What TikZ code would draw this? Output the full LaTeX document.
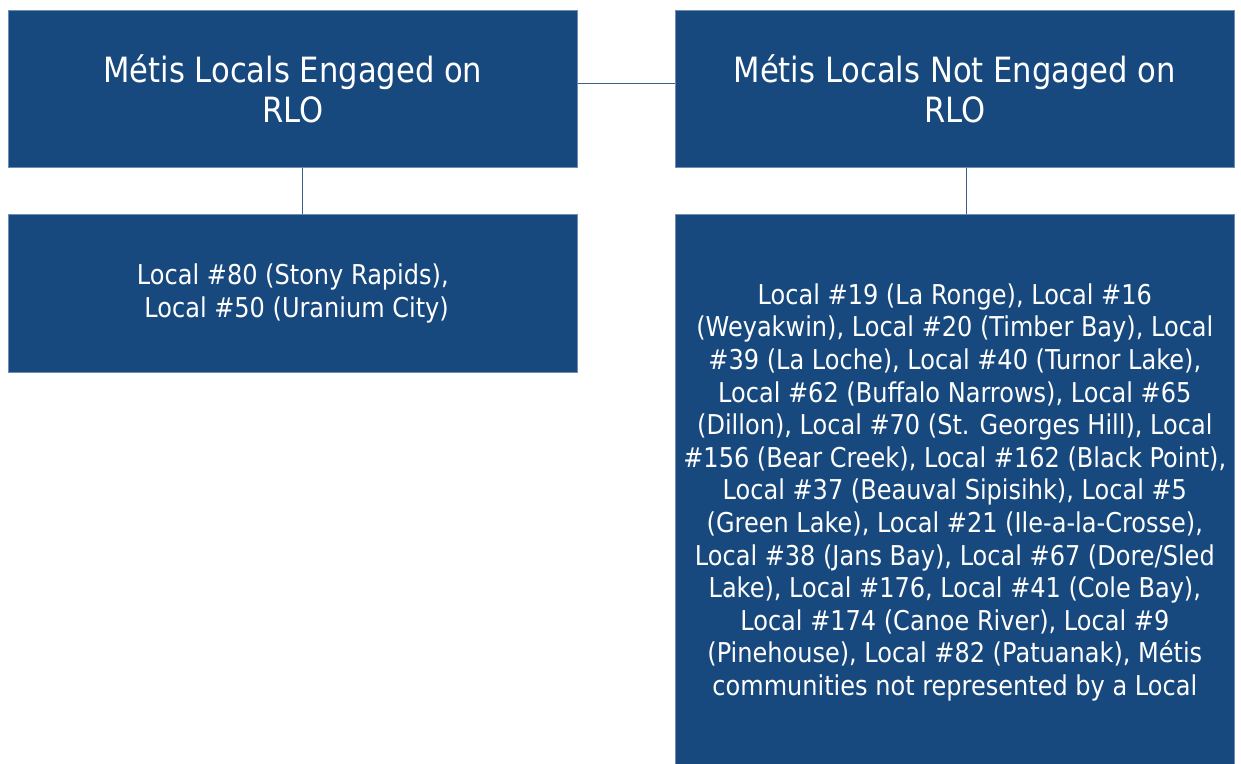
\documentclass[tikz,border=0pt]{standalone}
\usepackage{fontspec}
\setmainfont{DejaVu Sans}[FakeStretch=0.88]
\usetikzlibrary{calc}
\definecolor{boxblue}{RGB}{24,73,126}
\definecolor{edgeblue}{RGB}{110,140,180}
\definecolor{linkblue}{RGB}{60,95,140}
\tikzset{
  box/.style={fill=boxblue, draw=edgeblue, line width=0.6pt, text=white, align=center, inner sep=0pt, anchor=north west},
  head/.style={font=\fontsize{34.8}{40}\selectfont},
  body/.style={font=\fontsize{27.3}{32.6}\selectfont},
  link/.style={draw=linkblue, line width=1.3pt}
}
\begin{document}
\begin{tikzpicture}[x=1pt,y=-1pt]
\useasboundingbox (0,0) rectangle (1241,763);
\fill[white] (0,0) rectangle (1241,763);
\node[box, head, minimum width=569pt, minimum height=157pt] (tl) at (8,10) {Métis Locals Engaged on\\RLO};
\node[box, head, minimum width=559pt, minimum height=157pt] (tr) at (675,10) {Métis Locals Not Engaged on\\RLO};
\node[box, body, minimum width=569pt, minimum height=158pt] (bl) at (8,214) {Local \#80 (Stony Rapids),\\ \ Local \#50 (Uranium City)};
\node[box, body, minimum width=559pt, minimum height=556pt] (br) at (675,214) {Local \#19 (La Ronge), Local \#16\\(Weyakwin), Local \#20 (Timber Bay), Local\\\#39 (La Loche), Local \#40 (Turnor Lake),\\Local \#62 (Buffalo Narrows), Local \#65\\(Dillon), Local \#70 (St. Georges Hill), Local\\\#156 (Bear Creek), Local \#162 (Black Point),\\Local \#37 (Beauval Sipisihk), Local \#5\\(Green Lake), Local \#21 (Ile-a-la-Crosse),\\Local \#38 (Jans Bay), Local \#67 (Dore/Sled\\Lake), Local \#176, Local \#41 (Cole Bay),\\Local \#174 (Canoe River), Local \#9\\(Pinehouse), Local \#82 (Patuanak), Métis\\communities not represented by a Local};
\draw[link] ($(tl.east)+(0,-5.5)$) -- ($(tr.west)+(0,-5.5)$);
\draw[link] ($(tl.south)+(9.5,0)$) -- ($(bl.north)+(9.5,0)$);
\draw[link] ($(tr.south)+(11.5,0)$) -- ($(br.north)+(11.5,0)$);
\end{tikzpicture}
\end{document}
